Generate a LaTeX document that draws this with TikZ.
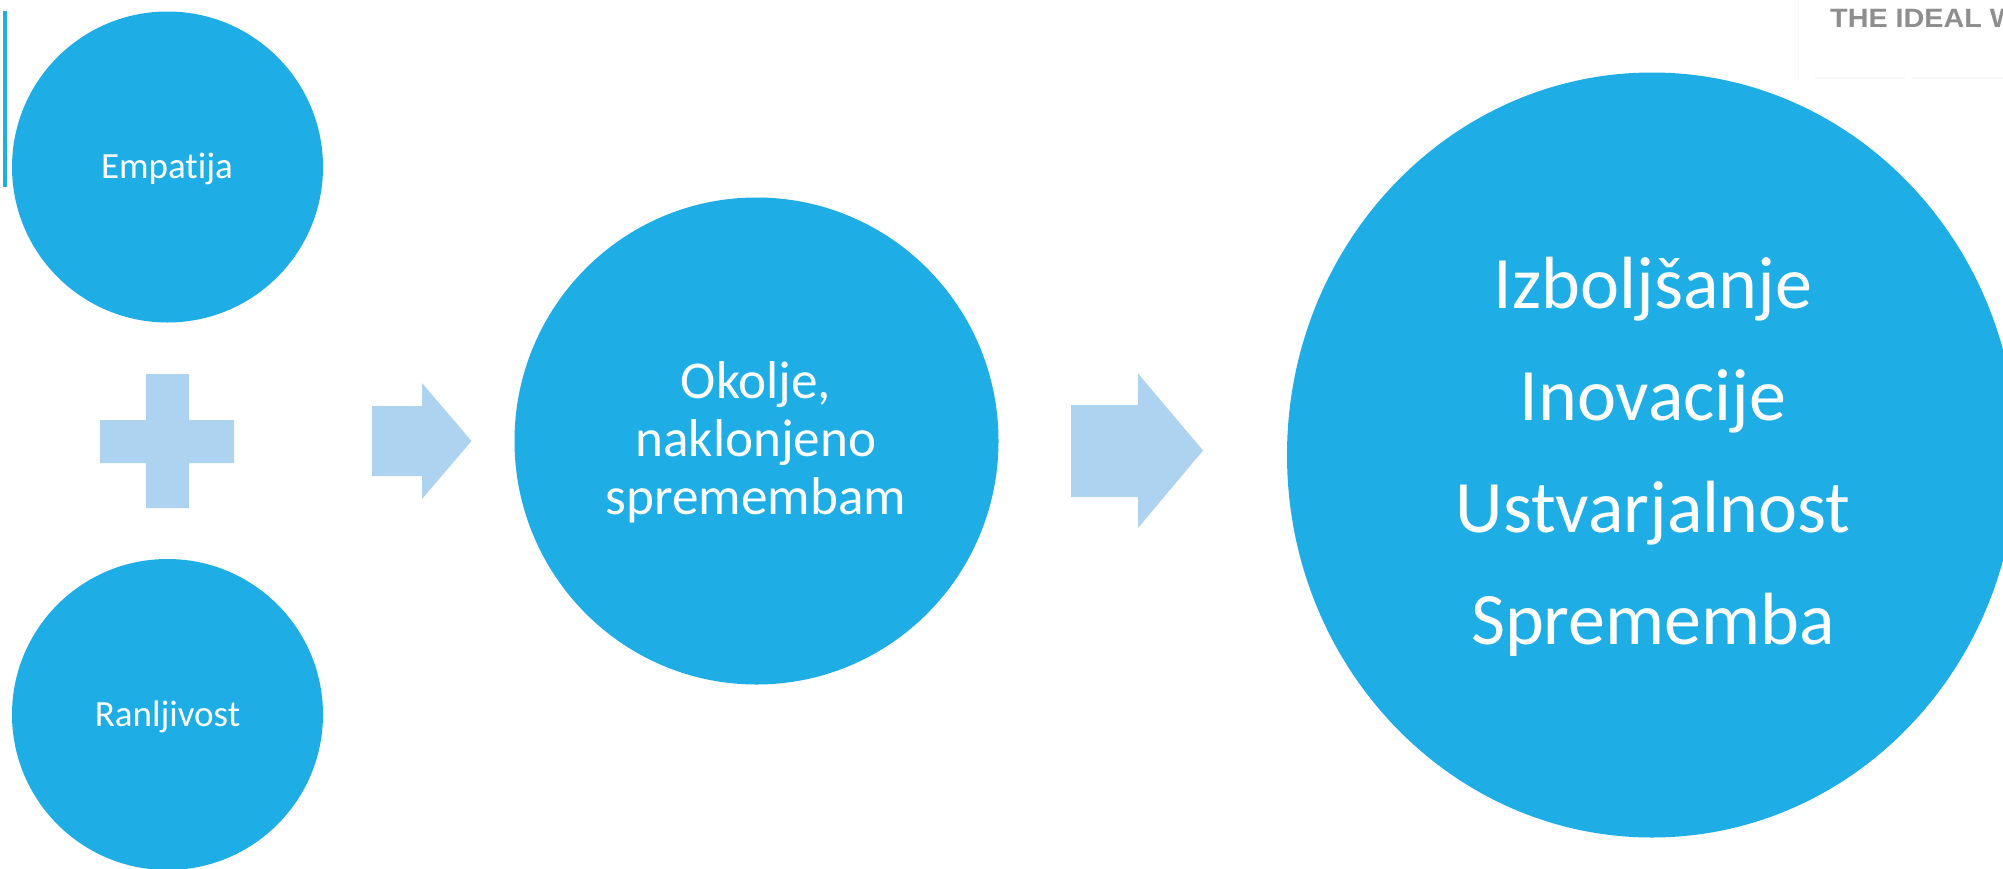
\documentclass[tikz,border=0pt]{standalone}
\usepackage{fontspec}
\setmainfont{Carlito}[Ligatures=NoCommon]
\newfontfamily\wmfont{Liberation Sans}
\usetikzlibrary{shapes.geometric}
\definecolor{discblue}{HTML}{1EADE5}
\definecolor{signblue}{HTML}{ADD3F0}
\definecolor{wmgray}{HTML}{8E8E8E}
\definecolor{wmfaint}{HTML}{F8F8F8}
\tikzset{
  x=1pt,y=-1pt,
  disc/.style={ellipse,fill=discblue,draw=none,inner sep=0pt,outer sep=0pt},
  sign/.style={fill=signblue,draw=none},
  lab/.style={text=white,inner sep=0pt,outer sep=0pt,align=center},
  smalltext/.style={lab,anchor=base,font=\fontsize{37}{37}\selectfont},
  midtext/.style={lab,font=\fontsize{53.2}{58}\selectfont},
  bigtext/.style={lab,font=\fontsize{74}{112}\selectfont},
}
\begin{document}
\begin{tikzpicture}
\useasboundingbox (0,0) rectangle (2003,868);
\clip (0,0) rectangle (2003,868);
% accent bar
\fill[discblue] (3,11) rectangle (7,186.5);
% left discs
\node[disc,minimum width=311pt,minimum height=311pt] (empatija) at (167.5,167) {};
\node[disc,minimum width=311pt,minimum height=311pt] (ranljivost) at (167.5,714.5) {};
\node[smalltext] (tempatija) at (167,178) {Empatija};
\node[smalltext] (tranljivost) at (167.5,726) {Ranljivost};
% plus
\fill[sign] (146,374) -- (189,374) -- (189,420) -- (234,420) -- (234,463) -- (189,463) -- (189,508) -- (146,508) -- (146,463) -- (100,463) -- (100,420) -- (146,420) -- cycle;
% arrow 1
\fill[sign] (372,406) -- (422,406) -- (422,383) -- (471.5,441) -- (422,499) -- (422,476) -- (372,476) -- cycle;
% middle disc
\node[disc,minimum width=484pt,minimum height=487pt] (okolje) at (756.5,441) {};
\node[midtext] (tokolje) at (756,442) {Okolje,\\naklonjeno\\spremembam};
% arrow 2
\fill[sign] (1071,405) -- (1138,405) -- (1138,373.5) -- (1203,450.5) -- (1138,528) -- (1138,497) -- (1071,497) -- cycle;
% big disc
\node[disc,minimum width=730pt,minimum height=765pt] (izid) at (1652,455) {};
\node[bigtext] (tizid) at (1653,456.5) {Izboljšanje\\Inovacije\\Ustvarjalnost\\Sprememba};
% watermark
\node[anchor=base west,inner sep=0pt,text=wmgray,font=\wmfont\bfseries\fontsize{26.5}{26.5}\selectfont] (wm) at (1830,27) {\scalebox{1.085}[1]{THE IDEAL W}};
\draw[wmfaint,line width=1pt] (1798,0) -- (1798,82);
\draw[wmfaint,line width=2pt] (1815,78) -- (1905,78) (1912,78) -- (2003,78);
\end{tikzpicture}
\end{document}
